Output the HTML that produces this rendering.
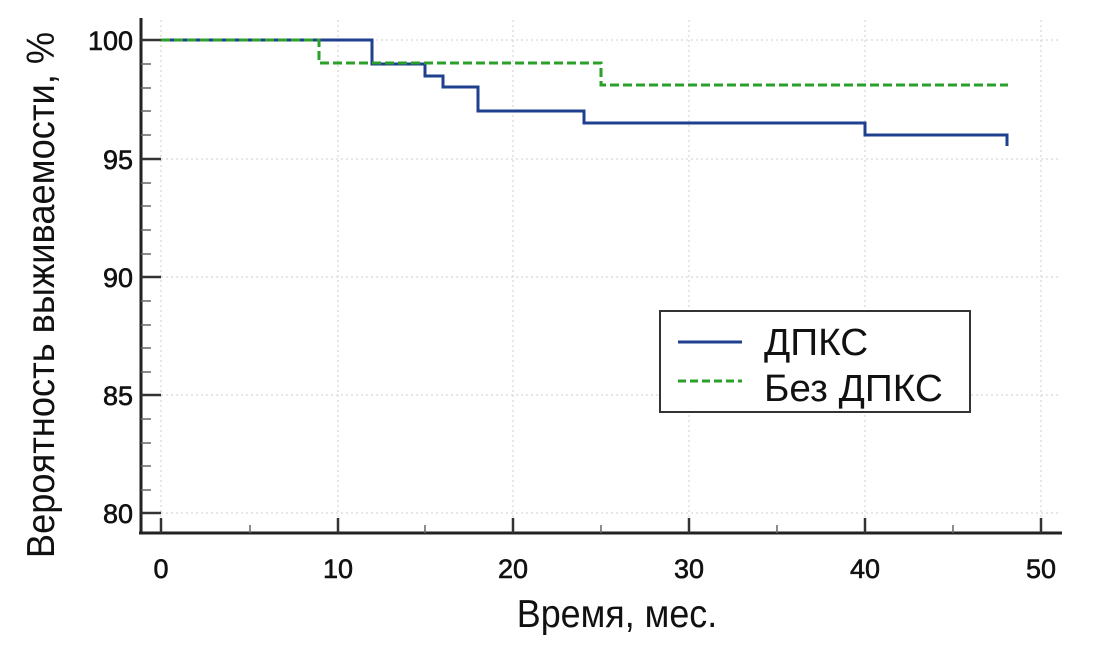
<!DOCTYPE html>
<html><head><style>body{margin:0;background:#fff}svg{display:block}</style></head><body>
<svg width="1093" height="650" xmlns="http://www.w3.org/2000/svg" font-family="Liberation Sans, Arial, sans-serif">
<g stroke="#ccc" stroke-width="1" stroke-dasharray="2,3">
<line x1="161" y1="20" x2="161" y2="530"/><line x1="338" y1="20" x2="338" y2="530"/><line x1="513" y1="20" x2="513" y2="530"/><line x1="689" y1="20" x2="689" y2="530"/><line x1="865" y1="20" x2="865" y2="530"/><line x1="1041" y1="20" x2="1041" y2="530"/>
<line x1="141" y1="40" x2="1060" y2="40"/><line x1="141" y1="159" x2="1060" y2="159"/><line x1="141" y1="277" x2="1060" y2="277"/><line x1="141" y1="395" x2="1060" y2="395"/><line x1="141" y1="513" x2="1060" y2="513"/>
</g>
<g stroke="#222" stroke-width="3" fill="none">
<line x1="141" y1="18" x2="141" y2="534"/><line x1="139" y1="533" x2="1062" y2="533"/>
</g>
<g stroke="#333" stroke-width="2.5">
<line x1="141" y1="40" x2="161" y2="40"/><line x1="141" y1="159" x2="161" y2="159"/><line x1="141" y1="277" x2="161" y2="277"/><line x1="141" y1="395" x2="161" y2="395"/><line x1="141" y1="513" x2="161" y2="513"/>
<line x1="161" y1="533" x2="161" y2="518"/><line x1="338" y1="533" x2="338" y2="518"/><line x1="513" y1="533" x2="513" y2="518"/><line x1="689" y1="533" x2="689" y2="518"/><line x1="865" y1="533" x2="865" y2="518"/><line x1="1041" y1="533" x2="1041" y2="518"/>
</g>
<g stroke="#666" stroke-width="1.5">
<line x1="141" y1="64" x2="151" y2="64"/><line x1="141" y1="88" x2="151" y2="88"/><line x1="141" y1="111" x2="151" y2="111"/><line x1="141" y1="135" x2="151" y2="135"/>
<line x1="141" y1="183" x2="151" y2="183"/><line x1="141" y1="206" x2="151" y2="206"/><line x1="141" y1="230" x2="151" y2="230"/><line x1="141" y1="254" x2="151" y2="254"/>
<line x1="141" y1="301" x2="151" y2="301"/><line x1="141" y1="325" x2="151" y2="325"/><line x1="141" y1="348" x2="151" y2="348"/><line x1="141" y1="372" x2="151" y2="372"/>
<line x1="141" y1="419" x2="151" y2="419"/><line x1="141" y1="443" x2="151" y2="443"/><line x1="141" y1="466" x2="151" y2="466"/><line x1="141" y1="490" x2="151" y2="490"/>
<line x1="250" y1="533" x2="250" y2="525"/><line x1="425" y1="533" x2="425" y2="525"/><line x1="601" y1="533" x2="601" y2="525"/><line x1="777" y1="533" x2="777" y2="525"/><line x1="953" y1="533" x2="953" y2="525"/>
</g>
<polyline fill="none" stroke="#1f3f8f" stroke-width="3" points="161,40 372,40 372,64 425,64 425,76 443,76 443,87 478,87 478,111 584,111 584,123 865,123 865,135 1007,135 1007,146"/>
<polyline fill="none" stroke="#2aa02a" stroke-width="3" stroke-dasharray="9,4" points="161,40 319,40 319,63 601,63 601,85 1008,85"/>
<g font-size="27" fill="#111" stroke="#111" stroke-width="0.6" text-anchor="end">
<text x="133" y="50">100</text><text x="133" y="169">95</text><text x="133" y="287">90</text><text x="133" y="405">85</text><text x="133" y="523">80</text>
</g>
<g font-size="27" fill="#111" stroke="#111" stroke-width="0.6" text-anchor="middle">
<text x="161" y="578">0</text><text x="338" y="578">10</text><text x="513" y="578">20</text><text x="689" y="578">30</text><text x="865" y="578">40</text><text x="1041" y="578">50</text>
</g>
<text x="617" y="627" font-size="39" text-anchor="middle" fill="#111" transform="translate(617,627) scale(0.92,1) translate(-617,-627)">Время, мес.</text>
<text transform="translate(54,295) rotate(-90) scale(0.93,1)" font-size="39" text-anchor="middle" fill="#111">Вероятность выживаемости, %</text>
<rect x="660" y="311" width="310" height="101" fill="#fff" stroke="#333" stroke-width="2"/>
<line x1="678" y1="342" x2="742" y2="342" stroke="#1f3f8f" stroke-width="3"/>
<line x1="678" y1="381" x2="742" y2="381" stroke="#2aa02a" stroke-width="3" stroke-dasharray="8,4"/>
<g font-size="38" fill="#111"><text x="764" y="355" transform="translate(764,0) scale(1.02,1) translate(-764,0)">ДПКС</text><text x="764" y="401" transform="translate(764,0) scale(1.02,1) translate(-764,0)">Без ДПКС</text></g>
</svg>
</body></html>
